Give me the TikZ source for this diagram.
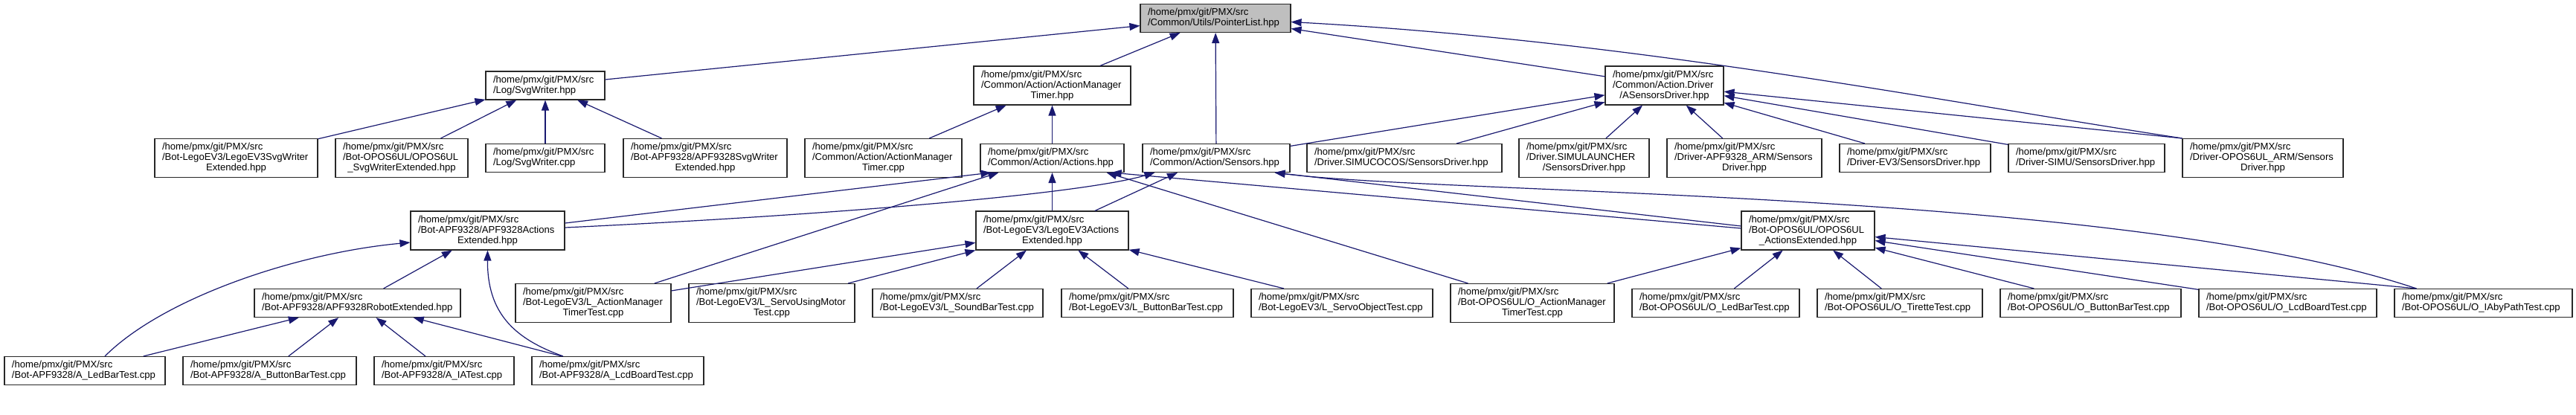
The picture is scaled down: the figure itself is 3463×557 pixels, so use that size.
\documentclass[tikz,border=0pt]{standalone}
\usepackage{fontspec}
\setmainfont{Liberation Sans}
\usetikzlibrary{arrows.meta}
\definecolor{edgecol}{RGB}{25,25,112}
\definecolor{rootfill}{RGB}{191,191,191}
\definecolor{boxline}{RGB}{40,40,40}
\newcommand\hp{/home/pmx/git/PMX/src}
\newcommand\twol[1]{\mbox{\hp}\\\mbox{#1}}
\newcommand\threel[2]{\mbox{\hp}\\\mbox{#1}\\\makebox[\hsize][c]{#2}}
\newcommand\nd[7][]{\pgfmathsetmacro\tw{#5-20}\node[box,#1,text width=\tw pt,minimum height=#6pt] (#2) at (#3,#4) {#7};}
\tikzset{
  box/.style={draw=boxline, line width=1.1pt, fill=white, inner xsep=10pt, inner ysep=0pt,
    align=left, font=\fontsize{13.1}{14}\selectfont},
  edge/.style={draw=edgecol, line width=1.2pt, -{Triangle[length=14pt,width=10pt]}}
}
\begin{document}
\begin{tikzpicture}[x=1pt,y=-1pt]
\fill[white] (0,0) rectangle (3463,557);
\useasboundingbox (0,0) rectangle (3463,557);
% row 1
\nd[fill=rootfill]{root}{1634}{24.5}{202}{38}{\twol{/Common/Utils/PointerList.hpp}}
% row 2
\nd{SvgWriterH}{733}{115}{160}{38}{\twol{/Log/SvgWriter.hpp}}
\nd{AMTH}{1414.5}{115}{211}{52}{\threel{/Common/Action/ActionManager}{Timer.hpp}}
\nd{ASD}{2237.5}{115}{159}{52}{\threel{/Common/Action.Driver}{/ASensorsDriver.hpp}}
% row 3
\nd{LSvgW}{317.5}{212.5}{219}{52}{\threel{/Bot-LegoEV3/LegoEV3SvgWriter}{Extended.hpp}}
\nd{OSvgW}{540}{212.5}{178}{52}{\threel{/Bot-OPOS6UL/OPOS6UL}{\_SvgWriterExtended.hpp}}
\nd{SvgCpp}{733}{212.5}{160}{38}{\twol{/Log/SvgWriter.cpp}}
\nd{ASvgW}{948}{212.5}{220}{52}{\threel{/Bot-APF9328/APF9328SvgWriter}{Extended.hpp}}
\nd{AMTcpp}{1187.5}{212.5}{211}{52}{\threel{/Common/Action/ActionManager}{Timer.cpp}}
\nd{Actions}{1414.5}{212.5}{193}{38}{\twol{/Common/Action/Actions.hpp}}
\nd{Sensors}{1635}{212.5}{198}{38}{\twol{/Common/Action/Sensors.hpp}}
\nd{SIMUCOCOS}{1888}{212.5}{262}{38}{\twol{/Driver.SIMUCOCOS/SensorsDriver.hpp}}
\nd{SIMULAUNCHER}{2129.5}{212.5}{175}{52}{\threel{/Driver.SIMULAUNCHER}{/SensorsDriver.hpp}}
\nd{APFARM}{2345}{212.5}{208}{52}{\threel{/Driver-APF9328\_ARM/Sensors}{Driver.hpp}}
\nd{EVthree}{2574.5}{212.5}{203}{38}{\twol{/Driver-EV3/SensorsDriver.hpp}}
\nd{SIMU}{2805}{212.5}{210}{38}{\twol{/Driver-SIMU/SensorsDriver.hpp}}
\nd{OPOSARM}{3042}{212.5}{216}{52}{\threel{/Driver-OPOS6UL\_ARM/Sensors}{Driver.hpp}}
% row 4
\nd{AAE}{655.5}{310}{207}{52}{\threel{/Bot-APF9328/APF9328Actions}{Extended.hpp}}
\nd{LAE}{1414.5}{310}{205}{52}{\threel{/Bot-LegoEV3/LegoEV3Actions}{Extended.hpp}}
\nd{OAE}{2430.5}{310}{179}{52}{\threel{/Bot-OPOS6UL/OPOS6UL}{\_ActionsExtended.hpp}}
% row 5
\nd{ARE}{480.5}{407.5}{277}{38}{\twol{/Bot-APF9328/APF9328RobotExtended.hpp}}
\nd{LAMTT}{797.5}{407.5}{209}{52}{\threel{/Bot-LegoEV3/L\_ActionManager}{TimerTest.cpp}}
\nd{LSUM}{1037.5}{407.5}{223}{52}{\threel{/Bot-LegoEV3/L\_ServoUsingMotor}{Test.cpp}}
\nd{LSound}{1287.5}{407.5}{229}{38}{\twol{/Bot-LegoEV3/L\_SoundBarTest.cpp}}
\nd{LButton}{1542.5}{407.5}{231}{38}{\twol{/Bot-LegoEV3/L\_ButtonBarTest.cpp}}
\nd{LServoObj}{1804}{407.5}{244}{38}{\twol{/Bot-LegoEV3/L\_ServoObjectTest.cpp}}
\nd{OAMTT}{2060}{407.5}{220}{52}{\threel{/Bot-OPOS6UL/O\_ActionManager}{TimerTest.cpp}}
\nd{OLed}{2306.5}{407.5}{225}{38}{\twol{/Bot-OPOS6UL/O\_LedBarTest.cpp}}
\nd{OTirette}{2554}{407.5}{222}{38}{\twol{/Bot-OPOS6UL/O\_TiretteTest.cpp}}
\nd{OButton}{2810.5}{407.5}{243}{38}{\twol{/Bot-OPOS6UL/O\_ButtonBarTest.cpp}}
\nd{OLcd}{3075.5}{407.5}{239}{38}{\twol{/Bot-OPOS6UL/O\_LcdBoardTest.cpp}}
\nd{OIA}{3338.5}{407.5}{239}{38}{\twol{/Bot-OPOS6UL/O\_IAbyPathTest.cpp}}
% row 6
\nd{ALed}{114}{498.5}{216}{38}{\twol{/Bot-APF9328/A\_LedBarTest.cpp}}
\nd{AButton}{362.5}{498.5}{233}{38}{\twol{/Bot-APF9328/A\_ButtonBarTest.cpp}}
\nd{AIA}{597}{498.5}{188}{38}{\twol{/Bot-APF9328/A\_IATest.cpp}}
\nd{ALcd}{830.5}{498.5}{231}{38}{\twol{/Bot-APF9328/A\_LcdBoardTest.cpp}}
% edges to root
\draw[edge] (SvgWriterH) -- (root);
\draw[edge] (AMTH) -- (root);
\draw[edge] (Sensors) -- (root);
\draw[edge] (ASD) -- ([yshift=-14pt]root.east);
\draw[edge] (OPOSARM.north west) .. controls (2600,135) and (2200,55) .. ([yshift=-5pt]root.east);
% SvgWriter
\draw[edge] (LSvgW) -- (SvgWriterH);
\draw[edge] (OSvgW) -- (SvgWriterH);
\draw[edge] (SvgCpp) -- (SvgWriterH);
\draw[edge] (ASvgW) -- (SvgWriterH);
% ActionManagerTimer
\draw[edge] (AMTcpp) -- (AMTH);
\draw[edge] (Actions) -- (AMTH);
% ASensorsDriver
\draw[edge] (Sensors) -- (ASD);
\draw[edge] (SIMUCOCOS) -- (ASD);
\draw[edge] (SIMULAUNCHER) -- (ASD);
\draw[edge] (APFARM) -- (ASD);
\draw[edge] (EVthree) -- (ASD);
\draw[edge] (SIMU) -- (ASD);
\draw[edge] (OPOSARM.north west) -- (ASD);
% Actions
\draw[edge] ([yshift=10pt]AAE.east) -- ([xshift=15pt]Actions.south west);
\draw[edge] (LAMTT) -- ([xshift=25pt]Actions.south west);
\draw[edge] (LAE) -- (Actions);
\draw[edge] ([yshift=3pt]OAE.west) -- ([xshift=-18pt]Actions.south east);
\draw[edge] (OAMTT) -- ([xshift=-24pt]Actions.south east);
% Sensors
\draw[edge] ([yshift=4pt]AAE.east) .. controls (1100,290) and (1450,262) .. ([xshift=17pt]Sensors.south west);
\draw[edge] (LAE) -- ([xshift=-52pt]Sensors.south);
\draw[edge] ([yshift=6pt]OAE.west) -- ([xshift=-21pt]Sensors.south east);
\draw[edge] ([xshift=30pt]OIA.north west) .. controls (2850,255) and (1950,262) .. ([xshift=-21pt]Sensors.south east);
% APF9328ActionsExtended
\draw[edge] ([xshift=27pt]ALed.north) .. controls (220,400) and (400,340) .. ([yshift=-16pt]AAE.west);
\draw[edge] (ARE) -- (AAE);
\draw[edge] ([xshift=-73.5pt]ALcd.north) .. controls (690,455) and (655,420) .. (AAE.south);
% LegoEV3ActionsExtended
\draw[edge] (LAMTT) -- (LAE);
\draw[edge] (LSUM) -- (LAE);
\draw[edge] (LSound) -- (LAE);
\draw[edge] (LButton) -- (LAE);
\draw[edge] (LServoObj) -- (LAE);
% OPOS6UL_ActionsExtended
\draw[edge] (OAMTT) -- (OAE);
\draw[edge] (OLed) -- (OAE);
\draw[edge] (OTirette) -- (OAE);
\draw[edge] (OButton) -- (OAE);
\draw[edge] (OLcd) -- (OAE);
\draw[edge] ([xshift=30pt]OIA.north west) -- (OAE);
% APF9328RobotExtended
\draw[edge] (ALed) -- (ARE);
\draw[edge] (AButton) -- (ARE);
\draw[edge] (AIA) -- (ARE);
\draw[edge] (ALcd) -- (ARE);
\end{tikzpicture}
\end{document}
